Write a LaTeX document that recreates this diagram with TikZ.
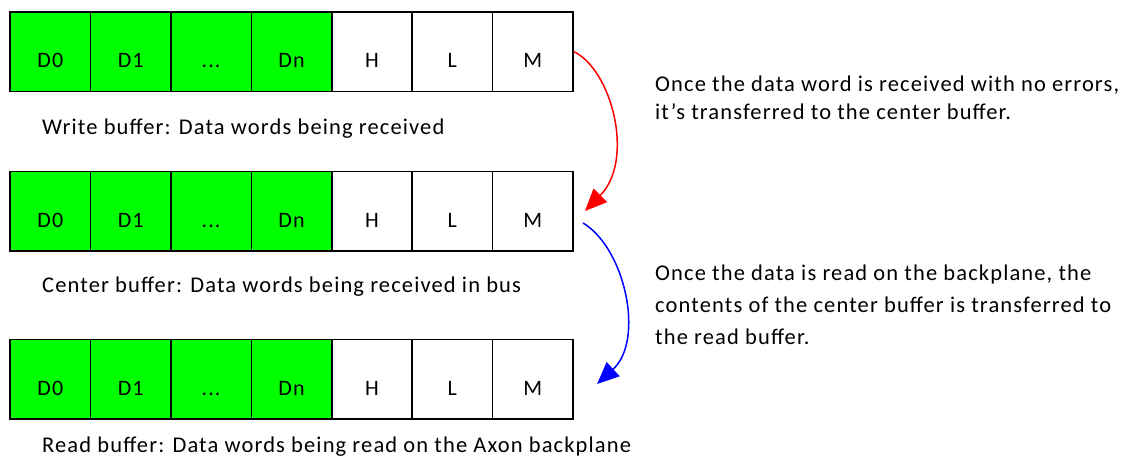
\documentclass[tikz,border=0pt]{standalone}
\usepackage{fontspec}
\setmainfont{Carlito}[LetterSpace=5]
\usetikzlibrary{arrows.meta}
\begin{document}
\begin{tikzpicture}[x=1pt,y=-1pt,
  cell/.style={draw=black,line width=1.6pt,minimum width=80.4pt,minimum height=79.5pt,inner sep=0pt,anchor=north west,text height=32pt,text depth=0pt,font=\fontsize{22}{22}\selectfont},
  dcell/.style={cell,fill=green},
  hcell/.style={cell,fill=white},
  captext/.style={anchor=base west,inner sep=0pt,font=\fontsize{22.5}{22.5}\selectfont},
  note/.style={anchor=base west,inner sep=0pt,font=\fontsize{22.5}{22.5}\selectfont},
  flow/.style={line width=1.5pt,-{Triangle[length=22pt,width=19pt]}}]
\useasboundingbox (0,0) rectangle (1134,458);
% rows
\foreach \r/\y in {w/11,c/170.5,r/338.5}{
  \node[dcell] (\r0) at (9.3,\y) {D0};
  \node[dcell] (\r1) at (89.7,\y) {D1};
  \node[dcell] (\r2) at (170.1,\y) {...};
  \node[dcell] (\r3) at (250.5,\y) {Dn};
  \node[hcell] (\r4) at (330.9,\y) {H};
  \node[hcell] (\r5) at (411.3,\y) {L};
  \node[hcell] (\r6) at (491.7,\y) {M};
}
\node[captext] (wcap) at (42,134) {Write buffer: Data words being received};
\node[captext] (ccap) at (42,292.5) {Center buffer: Data words being received in bus};
\node[captext] (rcap) at (42,452) {Read buffer: Data words being read on the Axon backplane};
\node[note] (n1a) at (655,91) {Once the data word is received with no errors,};
\node[note] (n1b) at (655,119) {it’s transferred to the center buffer.};
\node[note] (n2a) at (655,280) {Once the data is read on the backplane, the};
\node[note] (n2b) at (655,312) {contents of the center buffer is transferred to};
\node[note] (n2c) at (655,344) {the read buffer.};
\coordinate (redend) at (585,211);
\coordinate (bluestart) at (583,223);
\coordinate (blueend) at (597,384);
\draw[flow,red] (w6.east) .. controls (612,70) and (635,160) .. (redend);
\draw[flow,blue] (bluestart) .. controls (625,248) and (645,340) .. (blueend);
\end{tikzpicture}
\end{document}
